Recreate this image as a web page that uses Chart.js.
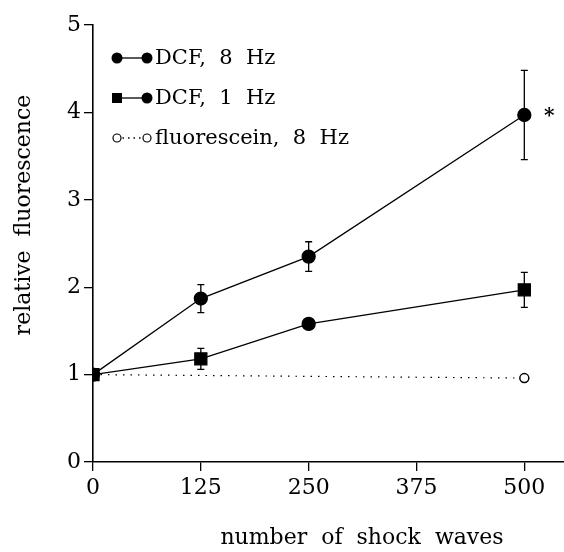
<!DOCTYPE html>
<html>
<head>
<meta charset="utf-8">
<script src="https://cdn.jsdelivr.net/npm/chart.js@4"></script>
<style>
  html, body { margin: 0; padding: 0; background: #fff; }
  #wrap { width: 564px; height: 552px; }
</style>
</head>
<body>
<div id="wrap"><canvas id="chart" width="564" height="552"></canvas></div>
<script>
// data
var shockWaves = [0, 125, 250, 500];
var dcf8Hz = [1.0, 1.87, 2.35, 3.97];
var dcf8HzErr = [0, 0.16, 0.17, 0.51];
var dcf1Hz = [1.0, 1.18, 1.58, 1.97];
var dcf1HzErr = [0, 0.12, 0.04, 0.20];
var fluoShockWaves = [0, 500];
var fluorescein8Hz = [1.0, 0.96];
var xTickValues = [0, 125, 250, 375, 500];
var yTickValues = [0, 1, 2, 3, 4, 5];
var seriesNames = ["DCF,  8  Hz", "DCF,  1  Hz", "fluorescein,  8  Hz"];

var FONT = "'DejaVu Serif', 'Liberation Serif', serif";

function toPoints(xs, ys) {
    return xs.map(function (x, i) { return {x: x, y: ys[i]}; });
}

// error bars, drawn through the chart scales
var errorBars = {
    id: "errorBars",
    afterDatasetsDraw: function (chart) {
        var ctx = chart.ctx;
        var xs = chart.scales.x, ys = chart.scales.y;
        var sets = [[dcf8Hz, dcf8HzErr], [dcf1Hz, dcf1HzErr]];
        ctx.save();
        ctx.strokeStyle = "#000";
        ctx.lineWidth = 1.3;
        sets.forEach(function (s) {
            shockWaves.forEach(function (x, i) {
                if (!s[1][i]) return;
                var px = xs.getPixelForValue(x);
                var top = ys.getPixelForValue(s[0][i] + s[1][i]);
                var bot = ys.getPixelForValue(s[0][i] - s[1][i]);
                ctx.beginPath();
                ctx.moveTo(px, top); ctx.lineTo(px, bot);
                ctx.moveTo(px - 3.5, top); ctx.lineTo(px + 3.5, top);
                ctx.moveTo(px - 3.5, bot); ctx.lineTo(px + 3.5, bot);
                ctx.stroke();
            });
        });
        // significance mark next to the last DCF 8 Hz point
        ctx.fillStyle = "#000";
        ctx.font = "bold 20px " + FONT;
        ctx.textAlign = "center";
        ctx.textBaseline = "middle";
        ctx.fillText("*", xs.getPixelForValue(500) + 25, ys.getPixelForValue(dcf8Hz[3]) + 2);
        ctx.restore();
    }
};

// legend inside the plot + axis titles
var extras = {
    id: "extras",
    afterDraw: function (chart) {
        var ctx = chart.ctx;
        ctx.save();
        ctx.fillStyle = "#000";
        ctx.strokeStyle = "#000";
        var rows = [58, 98, 138];
        var x1 = 117, x2 = 147, tx = 155;
        chart.data.datasets.forEach(function (ds, i) {
            var y = rows[i];
            ctx.lineWidth = 1.3;
            ctx.setLineDash(i === 2 ? [1.5, 4] : []);
            ctx.beginPath();
            ctx.moveTo(x1, y); ctx.lineTo(x2, y);
            ctx.stroke();
            ctx.setLineDash([]);
            [x1, x2].forEach(function (mx) {
                ctx.beginPath();
                if (i === 1 && mx === x1) {
                    ctx.rect(mx - 5, y - 5, 10, 10);
                    ctx.fill();
                } else if (i === 2) {
                    ctx.fillStyle = "#fff";
                    ctx.arc(mx, y, 4, 0, Math.PI * 2);
                    ctx.fill();
                    ctx.lineWidth = 1.2;
                    ctx.stroke();
                    ctx.fillStyle = "#000";
                } else {
                    ctx.arc(mx, y, 5.5, 0, Math.PI * 2);
                    ctx.fill();
                }
            });
            ctx.font = "21px " + FONT;
            ctx.textAlign = "left";
            ctx.textBaseline = "middle";
            ctx.fillText(seriesNames[i], tx, y + 1);
        });

        ctx.font = "22px " + FONT;
        ctx.textAlign = "center";
        ctx.textBaseline = "middle";
        ctx.fillText("number  of  shock  waves", 362, 538);

        ctx.translate(24, 215);
        ctx.rotate(-Math.PI / 2);
        ctx.fillText("relative  fluorescence", 0, 0);
        ctx.restore();
    }
};

new Chart(document.getElementById("chart"), {
    type: "line",
    data: {
        datasets: [{
            label: seriesNames[0],
            data: toPoints(shockWaves, dcf8Hz),
            borderColor: "#000",
            backgroundColor: "#000",
            borderWidth: 1.3,
            pointStyle: "circle",
            pointRadius: 6.5,
            tension: 0
        }, {
            label: seriesNames[1],
            data: toPoints(shockWaves, dcf1Hz),
            borderColor: "#000",
            backgroundColor: "#000",
            borderWidth: 1.3,
            // the 250 point prints as a rounded blob in the original
            pointStyle: ["rect", "rect", "circle", "rect"],
            pointRadius: [8.5, 8.5, 6.5, 8.5],
            tension: 0
        }, {
            label: seriesNames[2],
            data: toPoints(fluoShockWaves, fluorescein8Hz),
            borderColor: "#000",
            backgroundColor: "#fff",
            borderWidth: 1.2,
            borderDash: [1.5, 6],
            pointStyle: "circle",
            pointRadius: 4.5,
            pointBorderWidth: 1.5,
            tension: 0
        }]
    },
    options: {
        responsive: false,
        animation: false,
        layout: {autoPadding: false, padding: {top: 25, right: 0, left: 0, bottom: 0}},
        plugins: {legend: {display: false}, tooltip: {enabled: false}},
        scales: {
            x: {
                type: "linear",
                min: 0,
                max: 546,
                afterBuildTicks: function (scale) {
                    scale.ticks = xTickValues.map(function (v) { return {value: v}; });
                },
                afterFit: function (scale) { scale.height = 90; },
                grid: {drawOnChartArea: false, color: "#000", tickLength: 9, lineWidth: 1.3},
                border: {color: "#000", width: 1.6},
                ticks: {color: "#000", font: {family: FONT, size: 22}, padding: 4, maxRotation: 0}
            },
            y: {
                min: 0,
                max: 5,
                afterBuildTicks: function (scale) {
                    scale.ticks = yTickValues.map(function (v) { return {value: v}; });
                },
                afterFit: function (scale) { scale.width = 93; },
                grid: {drawOnChartArea: false, color: "#000", tickLength: 9, lineWidth: 1.3},
                border: {color: "#000", width: 1.6},
                ticks: {color: "#000", font: {family: FONT, size: 22}, padding: 3}
            }
        }
    },
    plugins: [errorBars, extras]
});
</script>
</body>
</html>
